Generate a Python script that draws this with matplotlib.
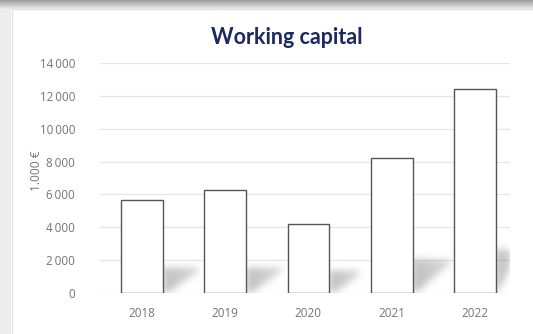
import numpy as np
import matplotlib.pyplot as plt
from matplotlib.patches import Rectangle

# Working capital per year, in thousands of euro
years = ['2018', '2019', '2020', '2021', '2022']
working_capital = [5650, 6270, 4180, 8220, 12420]
y_ticks = [0, 2000, 4000, 6000, 8000, 10000, 12000, 14000]

W, H = 533, 334
fig = plt.figure(figsize=(W / 100, H / 100), dpi=100)

# page background: grey band along the top, light strip on the left, white card
bg = fig.add_axes([0, 0, 1, 1], zorder=-10)
img = np.ones((H, W, 3))
img[:, :11] = 0.93
rows = np.arange(H)
shade = 0.62 + 0.33 * np.clip(rows / 9.0, 0, 1)
img[:9] = shade[:9, None, None] * np.ones((1, W, 3))
bg.imshow(img, extent=[0, W, H, 0], aspect='auto', interpolation='bilinear')
bg.add_patch(Rectangle((11.5, 9), W, H, fill=False, ec='#e2e2e2', lw=1.0))
bg.set_xlim(0, W)
bg.set_ylim(H, 0)
bg.axis('off')

ax = fig.add_axes([100 / W, 1 - 293 / H, 410 / W, 230 / H])
x = np.arange(len(years))
width = 0.5
xmin, xmax = -0.5, 4.42

# soft shadows at the foot of the bars, built as a blurred mask
gx = np.linspace(xmin, xmax, 410)
gy = np.linspace(0, 3600, 60)
XX, YY = np.meshgrid(gx, gy)
mask = np.zeros_like(XX)
shadow_top = [1500, 1500, 1300, 2000, 2600]
shadow_len = [0.42, 0.42, 0.36, 0.45, 0.26]
for i in range(len(years)):
    x0 = x[i] + width / 2
    top, L = shadow_top[i], shadow_len[i]
    inside = (XX >= x0) & (XX <= x0 + L) & (YY <= top) & (YY >= top * (XX - x0) / L - 250)
    strength = 1.0 - 0.4 * (XX - x0) / L
    mask = np.where(inside, np.maximum(mask, strength), mask)


def blur(a, sigma, axis):
    k = np.arange(-3 * sigma, 3 * sigma + 1)
    k = np.exp(-0.5 * (k / sigma) ** 2)
    k /= k.sum()
    return np.apply_along_axis(lambda r: np.convolve(r, k, mode='same'), axis, a)


mask = blur(blur(mask, 3.5, 1), 3.5, 0)
rgba = np.zeros(mask.shape + (4,))
rgba[..., :3] = 0.5
rgba[..., 3] = np.clip(mask, 0, 1) * 0.5
ax.imshow(rgba, extent=[xmin, xmax, 0, 3600], origin='lower', aspect='auto',
          interpolation='bilinear', zorder=1)

ax.bar(x, working_capital, width=width, color='white', edgecolor='#555555',
       linewidth=1.0, zorder=3)

ax.set_xlim(xmin, xmax)
ax.set_ylim(0, 14000)
ax.set_yticks(y_ticks)
ax.set_yticklabels([f'{t:,}'.replace(',', '\u2009') if t else '0' for t in y_ticks])
ax.set_xticks(x)
ax.set_xticklabels(years)
ax.grid(axis='y', color='#e6e6e6', linewidth=0.9, zorder=0)
ax.set_axisbelow(True)
for s in ax.spines.values():
    s.set_visible(False)
ax.tick_params(length=0, labelsize=8.4, labelcolor='#747474')
ax.tick_params(axis='x', pad=10)
ax.tick_params(axis='y', pad=18)
for lab in ax.get_xticklabels() + ax.get_yticklabels():
    lab.set_family(['Open Sans', 'DejaVu Sans'])
ax.set_ylabel('1.000 €', fontsize=8.6, color='#747474', family='Open Sans')
ax.yaxis.set_label_coords(-0.14, 0.53)
ax.set_facecolor('none')

fig.text(287 / W, 1 - 37 / H, 'Working capital', ha='center', va='center',
         fontsize=15.5, fontweight='bold', family='Lato', color='#1c2a5e')

fig.savefig('out.png', dpi=100)
